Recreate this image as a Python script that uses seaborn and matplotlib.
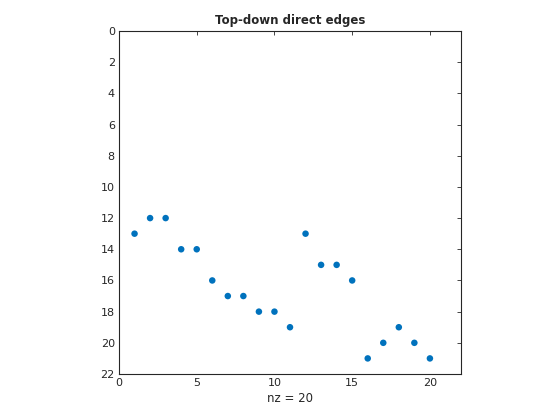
import matplotlib
matplotlib.use("Agg")
import matplotlib.pyplot as plt
import seaborn as sns
import pandas as pd

# column / row indices of the nonzero entries (spy plot)
cols = [1, 2, 3, 4, 5, 6, 7, 8, 9, 10, 11, 12, 13, 14, 15, 16, 17, 18, 19, 20]
rows = [13, 12, 12, 14, 14, 16, 17, 17, 18, 18, 19, 13, 15, 15, 16, 21, 20, 19, 20, 21]
xticks = [0, 5, 10, 15, 20]
yticks = [0, 2, 4, 6, 8, 10, 12, 14, 16, 18, 20, 22]

df = pd.DataFrame({"col": cols, "row": rows})

sns.set_style("white")
plt.rcParams["font.family"] = ["DejaVu Sans"]

fig = plt.figure(figsize=(5.6, 4.2), dpi=100)
ax = fig.add_axes([119 / 560, 1 - 374 / 420, 342 / 560, 343 / 420])

sns.scatterplot(data=df, x="col", y="row", ax=ax, color="#0072BD",
                s=22, edgecolor="none", legend=False)

ax.set_xlim(0, 22)
ax.set_ylim(22, 0)
ax.set_xticks(xticks)
ax.set_yticks(yticks)
ax.tick_params(direction="in", length=3, width=0.6, labelsize=8,
               colors="#262626", top=True, right=True,
               labelcolor="#262626", pad=3)
for sp in ax.spines.values():
    sp.set_visible(True)
    sp.set_color("#262626")
    sp.set_linewidth(0.8)

ax.set_xlabel("nz = 20", fontsize=8.5, color="#262626", labelpad=3)
ax.set_ylabel("")
ax.set_title("Top-down direct edges", fontsize=8.5, fontweight="bold", pad=5)

fig.savefig("out.png", dpi=100)
